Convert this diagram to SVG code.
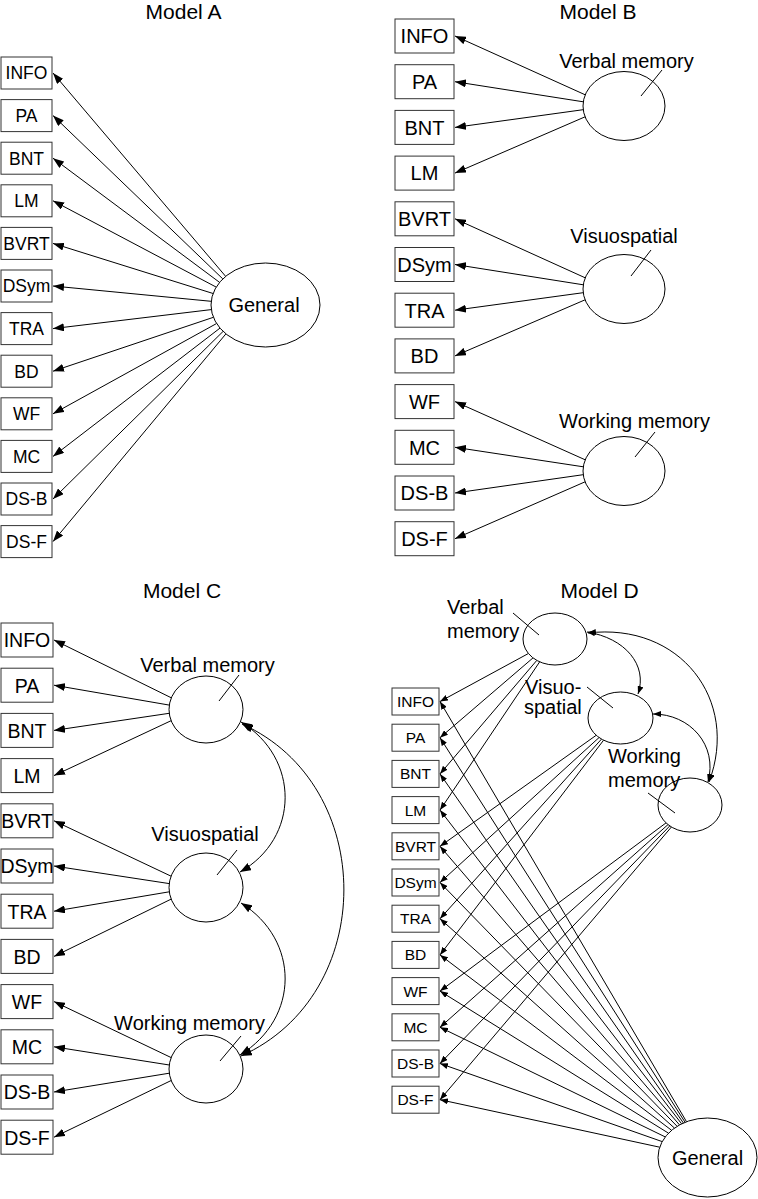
<svg xmlns="http://www.w3.org/2000/svg" width="758" height="1199" viewBox="0 0 758 1199">
<style>
.box{fill:#fff;stroke:#333;stroke-width:1}
.el{fill:#fff;stroke:#000;stroke-width:1}
.ln{stroke:#000;stroke-width:1;fill:none}
.ld{stroke:#000;stroke-width:1;fill:none}
text{font-family:"Liberation Sans",Arial,sans-serif;fill:#000}
.ttl{font-size:21px;text-anchor:middle}
.fa{font-size:17.5px;text-anchor:middle}
.fb{font-size:20px;text-anchor:middle}
.fc{font-size:19.5px;text-anchor:middle}
.fd{font-size:15.5px;text-anchor:middle}
.lab{font-size:20px}
.mid{text-anchor:middle}
.a{marker-end:url(#ah)}
.s{marker-end:url(#ahs)}
.dbl{marker-start:url(#ah);marker-end:url(#ah)}
.dbs{marker-start:url(#ahs);marker-end:url(#ahs)}
</style>
<defs>
<marker id="ah" markerWidth="11" markerHeight="8" refX="11" refY="4" orient="auto-start-reverse" markerUnits="userSpaceOnUse"><path d="M0,0 L11,4 L0,8 z" fill="#000"/></marker>
<marker id="ahs" markerWidth="8" markerHeight="6" refX="8" refY="3" orient="auto-start-reverse" markerUnits="userSpaceOnUse"><path d="M0,0 L8,3 L0,6 z" fill="#000"/></marker>
</defs>
<rect width="758" height="1199" fill="#fff"/>

<g id="titles">
<text class="ttl" x="183.5" y="19">Model A</text>
<text class="ttl" x="598" y="19">Model B</text>
<text class="ttl" x="182" y="598">Model C</text>
<text class="ttl" x="599.5" y="598">Model D</text>
</g>

<g id="connectors">
<!-- Model A -->
<g class="ln a">
<line x1="225.6" y1="276.3" x2="53" y2="73"/>
<line x1="222.8" y1="278.9" x2="53" y2="115.6"/>
<line x1="219.6" y1="282.4" x2="53" y2="158.2"/>
<line x1="216.2" y1="287.1" x2="53" y2="200.8"/>
<line x1="213.1" y1="293.5" x2="53" y2="243.4"/>
<line x1="211.2" y1="301.3" x2="53" y2="286"/>
<line x1="211.3" y1="309.6" x2="53" y2="328.6"/>
<line x1="213.4" y1="317.3" x2="53" y2="371.2"/>
<line x1="216.6" y1="323.5" x2="53" y2="413.8"/>
<line x1="220.0" y1="328.1" x2="53" y2="456.4"/>
<line x1="223.1" y1="331.4" x2="53" y2="499"/>
<line x1="225.9" y1="333.9" x2="53" y2="541.6"/>
</g>
<!-- Model B -->
<g class="ln a">
<line x1="585.2" y1="94.8" x2="455" y2="36"/>
<line x1="583.3" y1="101.8" x2="455" y2="81.7"/>
<line x1="583.2" y1="109.7" x2="455" y2="127.4"/>
<line x1="585.1" y1="116.8" x2="455" y2="173.1"/>
<line x1="585.2" y1="277.8" x2="455" y2="218.8"/>
<line x1="583.3" y1="284.8" x2="455" y2="264.5"/>
<line x1="583.2" y1="292.7" x2="455" y2="310.2"/>
<line x1="585.1" y1="299.8" x2="455" y2="355.9"/>
<line x1="585.2" y1="459.8" x2="455" y2="401.6"/>
<line x1="583.3" y1="466.8" x2="455" y2="447.3"/>
<line x1="583.2" y1="474.7" x2="455" y2="493"/>
<line x1="585.1" y1="481.8" x2="455" y2="538.7"/>
</g>
<!-- Model C -->
<g class="ln a">
<line x1="171.3" y1="697.8" x2="54" y2="640"/>
<line x1="169.3" y1="705.1" x2="54" y2="685.2"/>
<line x1="169.2" y1="713.3" x2="54" y2="730.4"/>
<line x1="171.1" y1="720.7" x2="54" y2="775.6"/>
<line x1="171.1" y1="876.2" x2="54" y2="820.8"/>
<line x1="169.3" y1="883.6" x2="54" y2="866"/>
<line x1="169.3" y1="891.8" x2="54" y2="911.2"/>
<line x1="171.2" y1="899.1" x2="54" y2="956.4"/>
<line x1="171.2" y1="1057.6" x2="54" y2="1001.6"/>
<line x1="169.3" y1="1065" x2="54" y2="1046.8"/>
<line x1="169.3" y1="1073.2" x2="54" y2="1092"/>
<line x1="171.2" y1="1080.5" x2="54" y2="1137.2"/>
</g>
<g class="ln dbl">
<path d="M241,722 C300,758 300,838 240,872"/>
<path d="M241,903 C300,940 300,1018 240,1055"/>
<path d="M242,724 C378,785 378,995 241,1056"/>
</g>
<!-- Model D -->
<g class="ln s">
<line x1="528.4" y1="653.5" x2="440" y2="701.5"/>
<line x1="533" y1="657.9" x2="440" y2="737.7"/>
<line x1="536.8" y1="660.4" x2="440" y2="773.9"/>
<line x1="539.7" y1="661.8" x2="440" y2="810.1"/>
<line x1="596.2" y1="735.3" x2="440" y2="846.3"/>
<line x1="599.1" y1="737.5" x2="440" y2="882.5"/>
<line x1="601.5" y1="739.1" x2="440" y2="918.7"/>
<line x1="603.6" y1="740.2" x2="440" y2="954.9"/>
<line x1="666" y1="822.9" x2="440" y2="991.1"/>
<line x1="668" y1="824.6" x2="440" y2="1027.3"/>
<line x1="669.8" y1="825.9" x2="440" y2="1063.5"/>
<line x1="671.4" y1="827" x2="440" y2="1099.7"/>
<line x1="686.5" y1="1121.7" x2="440" y2="701.5"/>
<line x1="685.1" y1="1122.3" x2="440" y2="737.7"/>
<line x1="683.4" y1="1123" x2="440" y2="773.9"/>
<line x1="681.6" y1="1123.8" x2="440" y2="810.1"/>
<line x1="679.5" y1="1124.9" x2="440" y2="846.3"/>
<line x1="677.1" y1="1126.3" x2="440" y2="882.5"/>
<line x1="674.5" y1="1128.1" x2="440" y2="918.7"/>
<line x1="671.6" y1="1130.3" x2="440" y2="954.9"/>
<line x1="668.5" y1="1133.2" x2="440" y2="991.1"/>
<line x1="665.2" y1="1136.9" x2="440" y2="1027.3"/>
<line x1="662.2" y1="1141.6" x2="440" y2="1063.5"/>
<line x1="659.7" y1="1147.2" x2="440" y2="1099.7"/>
</g>
<g class="ln dbs">
<path d="M587,632 C625,638 648,665 638,694"/>
<path d="M653,714 C690,714 718,745 708,782"/>
<path d="M588,633 C680,622 740,700 709,782"/>
</g>
</g>

<!-- Model A nodes -->
<g id="A-INFO"><rect class="box" x="1" y="57" width="51" height="32"/><text class="fa" x="26.5" y="79.3">INFO</text></g>
<g id="A-PA"><rect class="box" x="1" y="99.6" width="51" height="32"/><text class="fa" x="26.5" y="121.9">PA</text></g>
<g id="A-BNT"><rect class="box" x="1" y="142.2" width="51" height="32"/><text class="fa" x="26.5" y="164.5">BNT</text></g>
<g id="A-LM"><rect class="box" x="1" y="184.8" width="51" height="32"/><text class="fa" x="26.5" y="207.1">LM</text></g>
<g id="A-BVRT"><rect class="box" x="1" y="227.4" width="51" height="32"/><text class="fa" x="26.5" y="249.7">BVRT</text></g>
<g id="A-DSym"><rect class="box" x="1" y="270" width="51" height="32"/><text class="fa" x="26.5" y="292.3">DSym</text></g>
<g id="A-TRA"><rect class="box" x="1" y="312.6" width="51" height="32"/><text class="fa" x="26.5" y="334.9">TRA</text></g>
<g id="A-BD"><rect class="box" x="1" y="355.2" width="51" height="32"/><text class="fa" x="26.5" y="377.5">BD</text></g>
<g id="A-WF"><rect class="box" x="1" y="397.8" width="51" height="32"/><text class="fa" x="26.5" y="420.1">WF</text></g>
<g id="A-MC"><rect class="box" x="1" y="440.4" width="51" height="32"/><text class="fa" x="26.5" y="462.7">MC</text></g>
<g id="A-DSB"><rect class="box" x="1" y="483" width="51" height="32"/><text class="fa" x="26.5" y="505.3">DS-B</text></g>
<g id="A-DSF"><rect class="box" x="1" y="525.6" width="51" height="32"/><text class="fa" x="26.5" y="547.9">DS-F</text></g>
<g id="A-General"><ellipse class="el" cx="265.5" cy="305" rx="54.5" ry="42"/><text class="lab mid" x="264" y="312">General</text></g>

<!-- Model B nodes -->
<g id="B-INFO"><rect class="box" x="395" y="19" width="59" height="34"/><text class="fb" x="424.5" y="43.3">INFO</text></g>
<g id="B-PA"><rect class="box" x="395" y="64.7" width="59" height="34"/><text class="fb" x="424.5" y="89">PA</text></g>
<g id="B-BNT"><rect class="box" x="395" y="110.4" width="59" height="34"/><text class="fb" x="424.5" y="134.7">BNT</text></g>
<g id="B-LM"><rect class="box" x="395" y="156.1" width="59" height="34"/><text class="fb" x="424.5" y="180.4">LM</text></g>
<g id="B-BVRT"><rect class="box" x="395" y="201.8" width="59" height="34"/><text class="fb" x="424.5" y="226.1">BVRT</text></g>
<g id="B-DSym"><rect class="box" x="395" y="247.5" width="59" height="34"/><text class="fb" x="424.5" y="271.8">DSym</text></g>
<g id="B-TRA"><rect class="box" x="395" y="293.2" width="59" height="34"/><text class="fb" x="424.5" y="317.5">TRA</text></g>
<g id="B-BD"><rect class="box" x="395" y="338.9" width="59" height="34"/><text class="fb" x="424.5" y="363.2">BD</text></g>
<g id="B-WF"><rect class="box" x="395" y="384.6" width="59" height="34"/><text class="fb" x="424.5" y="408.9">WF</text></g>
<g id="B-MC"><rect class="box" x="395" y="430.3" width="59" height="34"/><text class="fb" x="424.5" y="454.6">MC</text></g>
<g id="B-DSB"><rect class="box" x="395" y="476" width="59" height="34"/><text class="fb" x="424.5" y="500.3">DS-B</text></g>
<g id="B-DSF"><rect class="box" x="395" y="521.7" width="59" height="34"/><text class="fb" x="424.5" y="546">DS-F</text></g>
<g id="B-Verbal"><ellipse class="el" cx="624" cy="106" rx="41" ry="34.5"/><text class="lab mid" x="626.5" y="68">Verbal memory</text><line class="ld" x1="662" y1="70" x2="641" y2="96"/></g>
<g id="B-Visuo"><ellipse class="el" cx="624" cy="289" rx="41" ry="34.5"/><text class="lab mid" x="624" y="243">Visuospatial</text><line class="ld" x1="651" y1="250" x2="631" y2="276"/></g>
<g id="B-Working"><ellipse class="el" cx="624" cy="471" rx="41" ry="34.5"/><text class="lab mid" x="634.5" y="428">Working memory</text><line class="ld" x1="655" y1="432" x2="635" y2="457"/></g>

<!-- Model C nodes -->
<g id="C-INFO"><rect class="box" x="1" y="623" width="52" height="34"/><text class="fc" x="27" y="647.3">INFO</text></g>
<g id="C-PA"><rect class="box" x="1" y="668.2" width="52" height="34"/><text class="fc" x="27" y="692.5">PA</text></g>
<g id="C-BNT"><rect class="box" x="1" y="713.4" width="52" height="34"/><text class="fc" x="27" y="737.7">BNT</text></g>
<g id="C-LM"><rect class="box" x="1" y="758.6" width="52" height="34"/><text class="fc" x="27" y="782.9">LM</text></g>
<g id="C-BVRT"><rect class="box" x="1" y="803.8" width="52" height="34"/><text class="fc" x="27" y="828.1">BVRT</text></g>
<g id="C-DSym"><rect class="box" x="1" y="849" width="52" height="34"/><text class="fc" x="27" y="873.3">DSym</text></g>
<g id="C-TRA"><rect class="box" x="1" y="894.2" width="52" height="34"/><text class="fc" x="27" y="918.5">TRA</text></g>
<g id="C-BD"><rect class="box" x="1" y="939.4" width="52" height="34"/><text class="fc" x="27" y="963.7">BD</text></g>
<g id="C-WF"><rect class="box" x="1" y="984.6" width="52" height="34"/><text class="fc" x="27" y="1008.9">WF</text></g>
<g id="C-MC"><rect class="box" x="1" y="1029.8" width="52" height="34"/><text class="fc" x="27" y="1054.1">MC</text></g>
<g id="C-DSB"><rect class="box" x="1" y="1075" width="52" height="34"/><text class="fc" x="27" y="1099.3">DS-B</text></g>
<g id="C-DSF"><rect class="box" x="1" y="1120.2" width="52" height="34"/><text class="fc" x="27" y="1144.5">DS-F</text></g>
<g id="C-Verbal"><ellipse class="el" cx="206" cy="709.5" rx="37" ry="33.5"/><text class="lab mid" x="207.5" y="672">Verbal memory</text><line class="ld" x1="239" y1="675" x2="219" y2="701"/></g>
<g id="C-Visuo"><ellipse class="el" cx="206" cy="887.5" rx="37" ry="34.5"/><text class="lab mid" x="205" y="841">Visuospatial</text><line class="ld" x1="237" y1="850" x2="217" y2="875"/></g>
<g id="C-Working"><ellipse class="el" cx="206" cy="1069" rx="37" ry="34"/><text class="lab mid" x="189.5" y="1030">Working memory</text><line class="ld" x1="241" y1="1036" x2="220" y2="1061"/></g>

<!-- Model D nodes -->
<g id="D-INFO"><rect class="box" x="392" y="688" width="47" height="27"/><text class="fd" x="415.5" y="707">INFO</text></g>
<g id="D-PA"><rect class="box" x="392" y="724.2" width="47" height="27"/><text class="fd" x="415.5" y="743.2">PA</text></g>
<g id="D-BNT"><rect class="box" x="392" y="760.4" width="47" height="27"/><text class="fd" x="415.5" y="779.4">BNT</text></g>
<g id="D-LM"><rect class="box" x="392" y="796.6" width="47" height="27"/><text class="fd" x="415.5" y="815.6">LM</text></g>
<g id="D-BVRT"><rect class="box" x="392" y="832.8" width="47" height="27"/><text class="fd" x="415.5" y="851.8">BVRT</text></g>
<g id="D-DSym"><rect class="box" x="392" y="869" width="47" height="27"/><text class="fd" x="415.5" y="888">DSym</text></g>
<g id="D-TRA"><rect class="box" x="392" y="905.2" width="47" height="27"/><text class="fd" x="415.5" y="924.2">TRA</text></g>
<g id="D-BD"><rect class="box" x="392" y="941.4" width="47" height="27"/><text class="fd" x="415.5" y="960.4">BD</text></g>
<g id="D-WF"><rect class="box" x="392" y="977.6" width="47" height="27"/><text class="fd" x="415.5" y="996.6">WF</text></g>
<g id="D-MC"><rect class="box" x="392" y="1013.8" width="47" height="27"/><text class="fd" x="415.5" y="1032.8">MC</text></g>
<g id="D-DSB"><rect class="box" x="392" y="1050" width="47" height="27"/><text class="fd" x="415.5" y="1069">DS-B</text></g>
<g id="D-DSF"><rect class="box" x="392" y="1086.2" width="47" height="27"/><text class="fd" x="415.5" y="1105.2">DS-F</text></g>
<g id="D-Verbal"><ellipse class="el" cx="555" cy="639" rx="32" ry="26"/><text class="lab" x="447" y="614">Verbal</text><text class="lab" x="447" y="638">memory</text><line class="ld" x1="513" y1="613" x2="539" y2="635"/></g>
<g id="D-Visuo"><ellipse class="el" cx="620.5" cy="718" rx="32.5" ry="26"/><text class="lab" x="525" y="694">Visuo-</text><text class="lab" x="524" y="714">spatial</text><line class="ld" x1="587" y1="687" x2="613" y2="708"/></g>
<g id="D-Working"><ellipse class="el" cx="690" cy="805" rx="32" ry="27"/><text class="lab" x="608" y="763">Working</text><text class="lab" x="608" y="787">memory</text><line class="ld" x1="648" y1="793" x2="675" y2="813"/></g>
<g id="D-General"><ellipse class="el" cx="707.5" cy="1157.5" rx="49.5" ry="39.5"/><text class="lab mid" x="707.5" y="1164.5">General</text></g>
</svg>
